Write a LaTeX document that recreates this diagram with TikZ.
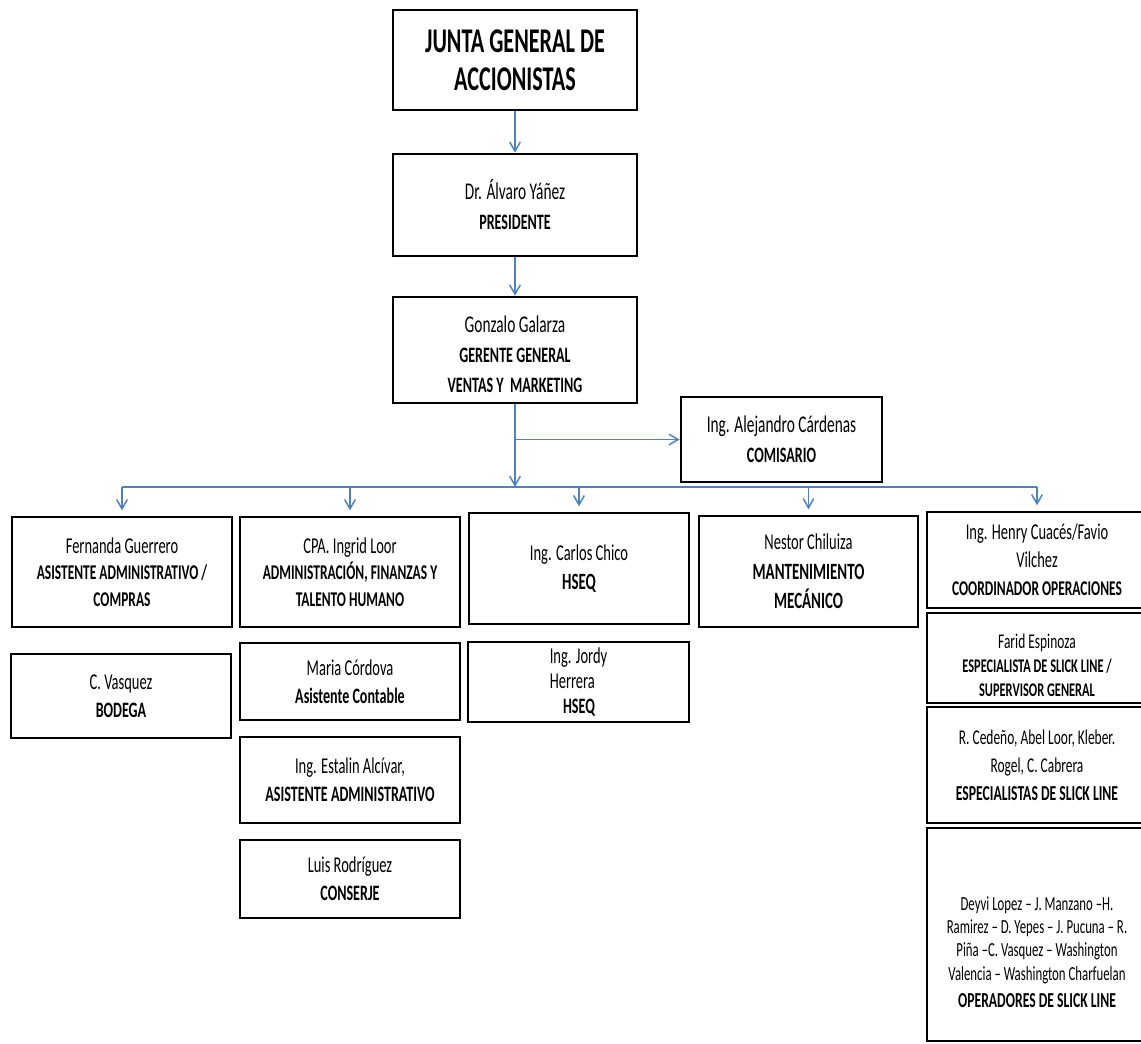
\documentclass[tikz,border=0pt]{standalone}
\usepackage{fontspec}
\setmainfont{Carlito}[FakeStretch=0.64]
\usetikzlibrary{arrows.meta,positioning}
\definecolor{linkblue}{RGB}{79,129,189}
% bold job title at a given size
\newcommand{\ttl}[2][16]{{\fontsize{#1}{#1}\selectfont\bfseries #2}}
% pushes the text of a box down
\newcommand{\lowered}[1]{\rule{0pt}{#1}}

\begin{document}
\begin{tikzpicture}[x=0.75pt,y=-0.75pt,
  box/.style={draw,line width=2pt,align=center,inner sep=2pt},
  head/.style={box,minimum width=183pt},
  unit/.style={box,minimum width=165pt},
  link/.style={draw=linkblue,line width=1.1pt,-{Straight Barb[length=7pt,width=8pt]}},
  busline/.style={draw=linkblue,line width=1.1pt}]
\useasboundingbox (0,0) rectangle (1141,1043);
\clip (0,0) rectangle (1141,1043);

% Board of shareholders
  \node[head,minimum height=75pt,font=\fontsize{26}{28.5}\selectfont\bfseries] (junta) at (515,60) {JUNTA GENERAL DE\\ACCIONISTAS};
% President
  \node[head,minimum height=76.5pt,font=\fontsize{18}{22.5}\selectfont] (pres) at (515,205) {Dr. Álvaro Yáñez\\\ttl[16.5]{PRESIDENTE}};
% General manager
  \node[head,minimum height=79.5pt,font=\fontsize{18}{22.5}\selectfont] (ger) at (515,350) {\lowered{19.5pt}Gonzalo Galarza\\\ttl[16.5]{GERENTE GENERAL}\\\ttl[16.5]{VENTAS Y\ \ MARKETING}};
% Commissioner (side box)
  \node[box,minimum width=150.75pt,minimum height=63.75pt,font=\fontsize{18}{22.5}\selectfont] (com) at (781.5,439.5) {Ing. Alejandro Cárdenas\\\ttl[16.5]{COMISARIO}};

% Column 1
  \node[unit,minimum height=82.5pt,font=\fontsize{17}{20}\selectfont] (fer) at (122,572) {Fernanda Guerrero\\\ttl[15.75]{ASISTENTE ADMINISTRATIVO /}\\\ttl[15.75]{COMPRAS}};
  \node[unit,minimum height=63pt,font=\fontsize{17}{21}\selectfont] (cva) at (121,696) {C. Vasquez\\\ttl[16.5]{BODEGA}};
% Column 2
  \node[unit,minimum height=82.5pt,font=\fontsize{17}{20}\selectfont] (ing) at (350,572) {CPA. Ingrid Loor\\\ttl[15.75]{ADMINISTRACIÓN, FINANZAS Y}\\\ttl[15.75]{TALENTO HUMANO}};
  \node[unit,minimum height=57.75pt,font=\fontsize{17}{21}\selectfont] (mar) at (350,681.5) {Maria Córdova\\\ttl[16.5]{Asistente Contable}};
  \node[unit,minimum height=64.5pt,font=\fontsize{17}{21}\selectfont] (est) at (350,780) {Ing. Estalin Alcívar,\\\ttl[16.5]{ASISTENTE ADMINISTRATIVO}};
  \node[unit,minimum height=58.5pt,font=\fontsize{17}{21}\selectfont] (lui) at (350,879) {Luis Rodríguez\\\ttl[16.5]{CONSERJE}};
% Column 3
  \node[unit,minimum height=83.25pt,font=\fontsize{17}{22}\selectfont] (car) at (579,568.5) {Ing. Carlos Chico\\\ttl[17.5]{HSEQ}};
  \node[unit,minimum width=165.75pt,minimum height=60pt,align=left,font=\fontsize{17}{19}\selectfont] (jor) at (578.5,682) {Ing. Jordy\\Herrera\\\hspace*{10pt}\ttl[16.5]{HSEQ}};
% Column 4
  \node[unit,minimum width=164.25pt,minimum height=83.25pt,font=\fontsize{17}{22}\selectfont] (nes) at (808.5,571.5) {Nestor Chiluiza\\\ttl[17.5]{MANTENIMIENTO}\\\ttl[17.5]{MECÁNICO}};
% Column 5
  \node[unit,minimum height=72pt,font=\fontsize{17}{21}\selectfont] (hen) at (1037,560) {Ing. Henry Cuacés/Favio\\Vilchez\\\ttl[15.75]{COORDINADOR OPERACIONES}};
  \node[unit,minimum height=67.5pt,font=\fontsize{15.75}{18}\selectfont] (far) at (1037,658) {\lowered{22pt}Farid Espinoza\\\ttl[14.5]{ESPECIALISTA DE SLICK LINE /}\\\ttl[14.5]{SUPERVISOR GENERAL}};
  \node[unit,minimum height=87pt,font=\fontsize{15.75}{21}\selectfont] (ced) at (1037,765) {R. Cedeño, Abel Loor, Kleber.\\Rogel, C. Cabrera\\\ttl[16]{ESPECIALISTAS DE SLICK LINE}};
  \node[unit,minimum height=159.75pt,font=\fontsize{15}{17.5}\selectfont] (dey) at (1037,934.5) {\lowered{36.5pt}Deyvi Lopez -- J. Manzano --H.\\Ramirez -- D. Yepes -- J. Pucuna -- R.\\Piña --C. Vasquez -- Washington\\Valencia -- Washington Charfuelan\\[3pt]\ttl[16]{OPERADORES DE SLICK LINE}};

% Chain of command
  \coordinate (bus) at (0,487);
  \draw[link] (junta.south) -- (pres.north);
  \draw[link] (pres.south) -- (ger.north);
  \draw[link] (ger.south) -- (ger.south |- bus);
  \draw[link] (ger.south |- com.west) -- (com.west);
% Bus to the five units
  \draw[busline] (fer.north |- bus) -- (hen.north |- bus);
  \foreach \unitname in {fer,ing,car,nes,hen}
    \draw[link,shorten >=4pt] (\unitname.north |- bus) -- (\unitname.north);
\end{tikzpicture}
\end{document}
